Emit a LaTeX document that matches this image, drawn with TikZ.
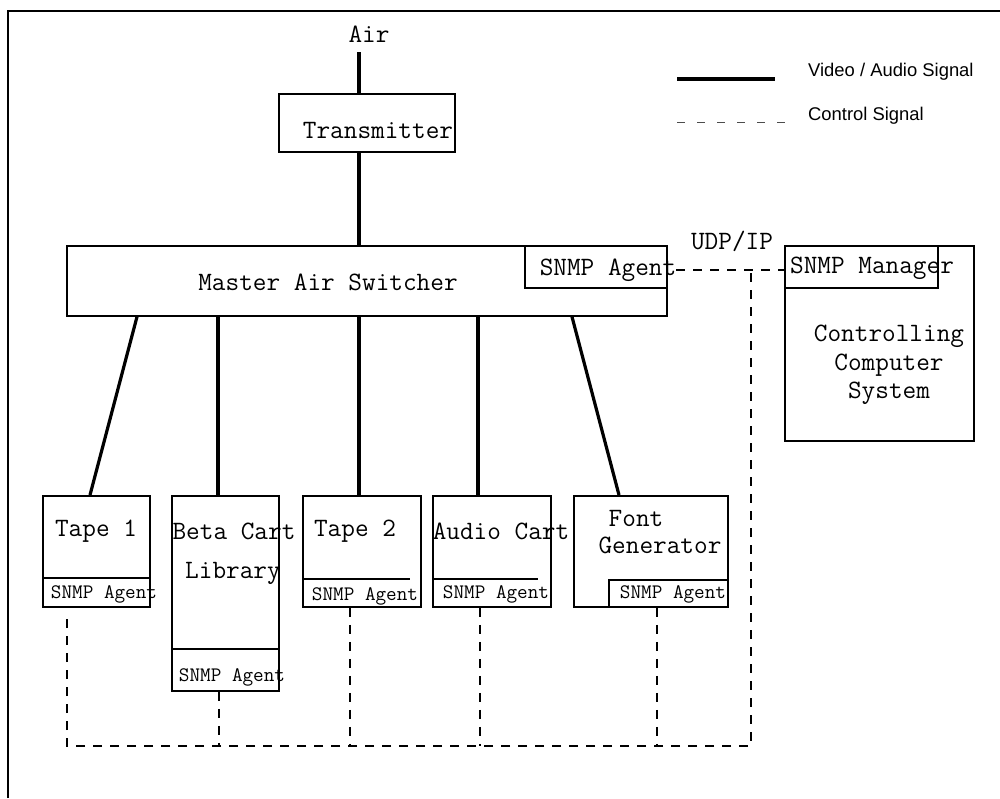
\documentclass[tikz,border=0pt]{standalone}
\usepackage{fontspec}
\newfontfamily\arial{Liberation Sans}
\usetikzlibrary{calc}

\tikzset{
  box/.style={draw, line width=1.8pt, inner sep=0pt, anchor=north west},
  sig/.style={line width=3.2pt},
  ctl/.style={line width=1.2pt, dash pattern=on 9pt off 8pt},
  big/.style={font=\ttfamily\fontsize{26.5}{28.5}\selectfont, inner sep=0pt},
  small/.style={font=\ttfamily\fontsize{20.6}{22}\selectfont, inner sep=0pt},
  legend/.style={font=\arial\fontsize{18.4}{22}\selectfont, inner sep=0pt, anchor=west},
}

\begin{document}
\begin{tikzpicture}[x=1pt,y=-1pt]
\useasboundingbox (0,0) rectangle (1000,798);

% Rahmen
\draw[line width=2pt] (7.5,798) -- (7.5,11) -- (1000,11);

% Kaesten oben
\node[box, minimum width=176pt, minimum height=58pt] (trans) at (278,93) {};
\node[box, minimum width=600pt, minimum height=70pt] (mas) at (66,245) {};
\node[box, minimum width=142pt, minimum height=42pt] (masag) at (524,245) {};
\node[box, minimum width=189pt, minimum height=195pt] (mgr) at (784,245) {};
\node[box, minimum width=153pt, minimum height=42pt] (mgrag) at (784,245) {};

% Kaesten unten
\node[box, minimum width=107pt, minimum height=111pt] (tape1) at (42,495) {};
\node[box, minimum width=107pt, minimum height=29pt] (tape1ag) at (42,577) {};
\node[box, minimum width=107pt, minimum height=195pt] (beta) at (171,495) {};
\node[box, minimum width=107pt, minimum height=42pt] (betaag) at (171,648) {};
\node[box, minimum width=118pt, minimum height=111pt] (tape2) at (302,495) {};
\node[box, minimum width=118pt, minimum height=111pt] (audio) at (432,495) {};
\node[box, minimum width=154pt, minimum height=111pt] (font) at (573,495) {};
\node[box, minimum width=119pt, minimum height=27pt] (fontag) at (608,579) {};
\draw[line width=1.8pt] (tape2.west |- 0,579) -- (410,579);
\draw[line width=1.8pt] (audio.west |- 0,579) -- (538,579);

% Beschriftungen
\node[big] (air) at (369,34) {Air};
\node[big] (transtxt) at (378,130) {Transmitter};
\node[big] (mastxt) at (328,282) {Master Air Switcher};
\node[big] (masagtxt) at (608,270) {SNMP Agent};
\node[big] (udp) at (732,241) {UDP/IP};
\node[big] (mgragtxt) at (872,268) {SNMP Manager};
\node[big, align=center] (ctrltxt) at (889,365) {Controlling\\Computer\\System};

\node[big] (tape1txt) at (96,531) {Tape 1};
\node[small] (tape1agtxt) at (104,594) {SNMP Agent};
\node[big] (betatxt) at (234,531) {Beta Cart};
\node[big] (libtxt) at (233,573) {Library};
\node[small] (betaagtxt) at (232,677) {SNMP Agent};
\node[big] (tape2txt) at (355,531) {Tape 2};
\node[small] (tape2agtxt) at (365,596) {SNMP Agent};
\node[big] (audiotxt) at (501,531) {Audio Cart};
\node[small] (audioagtxt) at (496,594) {SNMP Agent};
\node[big] (fonttxt) at (636,518) {Font};
\node[big] (gentxt) at (660,545) {Generator};
\node[small] (fontagtxt) at (673,594) {SNMP Agent};

% Legende
\coordinate (lgA) at (677,79);
\coordinate (lgB) at (775,79);
\coordinate (lgC) at (677,122);
\coordinate (lgD) at (790,122);
\draw[sig] (lgA) -- (lgB);
\draw[line width=1pt, black!70, dash pattern=on 8pt off 12pt] (lgC) -- (lgD);
\node[legend] (lgsig) at (808,72) {Video / Audio Signal};
\node[legend] (lgctl) at (808,116) {Control Signal};

% Video / Audio Leitungen
\coordinate (airend) at (359,52);
\draw[sig] (airend) -- (airend |- trans.north);
\draw[sig] (airend |- trans.south) -- (airend |- mas.north);
\draw[sig] ($(mas.south west)+(71,0)$) -- ($(tape1.north west)+(48,0)$);
\draw[sig] ($(mas.south west)+(506,0)$) -- ($(font.north west)+(46,0)$);
\foreach \n/\dx in {beta/47, tape2/57, audio/46}{
  \path ($(\n.north west)+(\dx,0)$) coordinate (tmp);
  \draw[sig] (tmp) -- (tmp |- mas.south);
}

% Steuerleitungen
\coordinate (busR) at (751,273);
\coordinate (busL) at (67,746);
\draw[ctl] (masagtxt.east) -- (masagtxt.east -| mgr.west);
\draw[ctl] (busR) -- (busR |- busL) -- (busL) -- (67,612);
\foreach \n/\x in {betaag/219, tape2/350, audio/480, fontag/657}
  \draw[ctl] (\x,0 |- \n.south) -- (\x,0 |- busL);

\end{tikzpicture}
\end{document}
